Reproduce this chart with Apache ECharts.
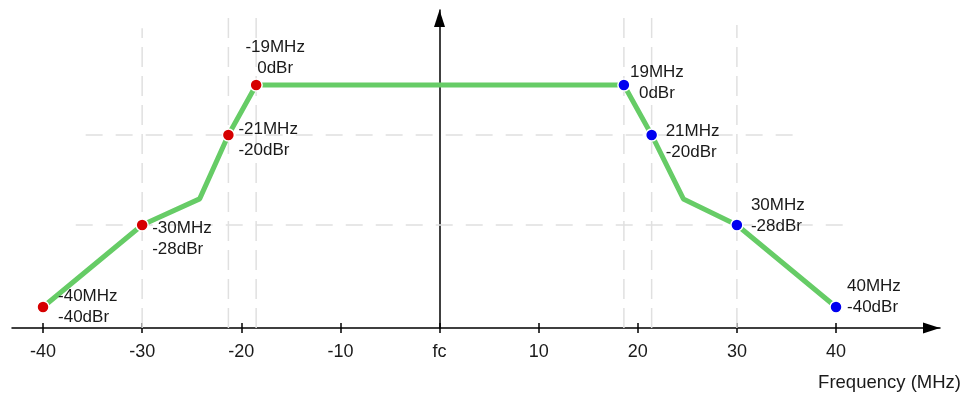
<!DOCTYPE html>
<html><head><meta charset="utf-8">
<script src="https://cdn.jsdelivr.net/npm/echarts@6/dist/echarts.min.js"></script>
<style>html,body{margin:0;padding:0;background:#fff}#c{width:962px;height:393px}</style>
</head><body><div id="c"></div>
<script>
// Spectrum mask: frequency offset (MHz) vs. plotted level (schematic units, axis = 0, top = 100)
const maskFreq  = [-40, -30, -24.2, -21.3, -18.5, 18.6, 21.4, 24.6, 30, 40];
const maskLevel = [6.6, 32.4, 40.6, 60.7, 76.4, 76.4, 60.7, 40.6, 32.4, 6.6];

const leftFreq = [-40, -30, -21.3, -18.5];
const leftLevel = [6.6, 32.4, 60.7, 76.4];
const leftFreqText = ['-40MHz', '-30MHz', '-21MHz', '-19MHz'];
const leftDbrText = ['-40dBr', '-28dBr', '-20dBr', '0dBr'];

const rightFreq = [18.6, 21.4, 30, 40];
const rightLevel = [76.4, 60.7, 32.4, 6.6];
const rightFreqText = ['19MHz', '21MHz', '30MHz', '40MHz'];
const rightDbrText = ['0dBr', '-20dBr', '-28dBr', '-40dBr'];

const tickValues = [-40, -30, -20, -10, 0, 10, 20, 30, 40];
const tickLabels = ['-40', '-30', '-20', '-10', 'fc', '10', '20', '30', '40'];

// guide (dashed) lines
const vGuideX = [-30, -21.3, -18.5, 18.6, 21.4, 30];
const vGuideTop = [94.3, 99.4, 99.4, 99.4, 99.4, 95.3];
const hGuideLevel = [60.7, 32.4];
const hGuideFrom = [-35.7, -36.7];
const hGuideTo = [36.0, 41.4];

// label layout (style only)
const leftLabelStyle = [
  {align: 'left', offset: [15, 0]},
  {align: 'left', offset: [10, 14]},
  {align: 'left', offset: [10, 4.5]},
  {align: 'center', offset: [19, -27.5]}
];
const rightLabelStyle = [
  {align: 'center', offset: [33, -2.5]},
  {align: 'left', offset: [14, 6.5]},
  {align: 'left', offset: [14, -9]},
  {align: 'left', offset: [11, -10.5]}
];

const FONT = 'Liberation Sans, Arial, sans-serif';
const TXT = '#1a1a1a';

function pointSeries(fx, lv, ft, dt, styles, color) {
  return {
    type: 'scatter', z: 5, symbolSize: 12,
    itemStyle: {color: color, borderColor: '#fff', borderWidth: 1.5, opacity: 1},
    data: fx.map((x, i) => ({
      value: [x, lv[i]],
      label: {
        show: true, position: 'inside', verticalAlign: 'middle',
        align: styles[i].align, offset: styles[i].offset,
        formatter: ft[i] + '\n' + dt[i],
        color: TXT, fontSize: 17, lineHeight: 21, fontFamily: FONT
      }
    }))
  };
}

const guideSeries = [];
vGuideX.forEach((x, i) => guideSeries.push({
  type: 'line', z: 1, silent: true, symbol: 'none', animation: false,
  lineStyle: {color: '#e0e0e0', width: 1.5, type: [20, 9]},
  data: [[x, 0], [x, vGuideTop[i]]]
}));
hGuideLevel.forEach((y, i) => guideSeries.push({
  type: 'line', z: 1, silent: true, symbol: 'none', animation: false,
  lineStyle: {color: '#e0e0e0', width: 1.5, type: [17, 13]},
  data: [[hGuideFrom[i], y], [hGuideTo[i], y]]
}));

const chart = echarts.init(document.getElementById('c'));
chart.setOption({
  animation: false,
  backgroundColor: '#fff',
  title: {
    text: 'Frequency (MHz)', right: 1, top: 373, padding: 0,
    textStyle: {fontSize: 18.5, fontWeight: 'normal', color: TXT, fontFamily: FONT}
  },
  grid: {left: 12, right: 22, top: 10, bottom: 65},
  xAxis: [{
    type: 'value', min: -43.13, max: 50.49,
    axisLine: {show: true, onZero: false, symbol: ['none', 'triangle'], symbolSize: [11, 17], symbolOffset: [0, -8.5],
      lineStyle: {color: '#000', width: 1.5}},
    axisTick: {show: true, length: 5, customValues: tickValues, lineStyle: {color: '#000', width: 1.5}},
    axisLabel: {show: true, customValues: tickValues, margin: 15,
      formatter: v => tickLabels[tickValues.indexOf(v)],
      color: TXT, fontSize: 18, fontFamily: FONT},
    splitLine: {show: false}
  }, {
    type: 'value', min: -43.13, max: 50.49, position: 'bottom',
    axisLine: {show: false},
    axisTick: {show: true, inside: true, length: 5, customValues: tickValues, lineStyle: {color: '#000', width: 1.5}},
    axisLabel: {show: false},
    splitLine: {show: false}
  }],
  yAxis: {
    type: 'value', min: 0, max: 100,
    axisLine: {show: true, onZero: true, onZeroAxisIndex: 0, symbol: ['none', 'triangle'], symbolSize: [11, 17], symbolOffset: [0, -8.5],
      lineStyle: {color: '#000', width: 1.5}},
    axisTick: {show: false}, axisLabel: {show: false}, splitLine: {show: false}
  },
  series: guideSeries.concat([
    {
      type: 'line', z: 3, symbol: 'none', animation: false,
      lineStyle: {color: '#66cc66', width: 5},
      data: maskFreq.map((x, i) => [x, maskLevel[i]])
    },
    pointSeries(leftFreq, leftLevel, leftFreqText, leftDbrText, leftLabelStyle, '#d60000'),
    pointSeries(rightFreq, rightLevel, rightFreqText, rightDbrText, rightLabelStyle, '#0000f0')
  ])
});
</script></body></html>
